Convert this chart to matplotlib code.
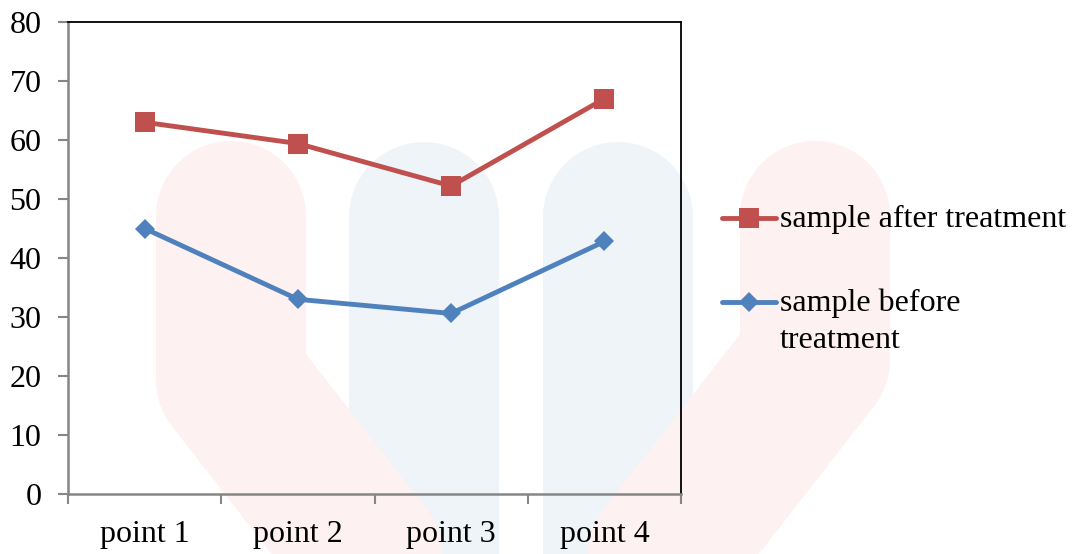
import matplotlib
matplotlib.use("Agg")
import matplotlib.pyplot as plt
from matplotlib.lines import Line2D

# ---- data ----
categories = ["point 1", "point 2", "point 3", "point 4"]
after_treatment = [63.0, 59.4, 52.2, 67.0]
before_treatment = [45.0, 33.0, 30.6, 42.8]
y_ticks = [0, 10, 20, 30, 40, 50, 60, 70, 80]

RED = "#c0504d"
BLUE = "#4f81bd"
plt.rcParams["font.family"] = ["Liberation Serif", "DejaVu Serif"]
FS = 23

W, H = 1073, 554
fig = plt.figure(figsize=(W / 100, H / 100), dpi=100)
fig.patch.set_facecolor("white")

# ---- faint logo in the background (pixel space) ----
bg = fig.add_axes([0, 0, 1, 1], zorder=0)
bg.set_xlim(0, W)
bg.set_ylim(H, 0)
bg.axis("off")
band_pt = 150 * 72 / 100
for cx in (424, 618):
    bg.add_line(Line2D([cx, cx], [217, 700], color="#eff4f9", lw=band_pt,
                       solid_capstyle="round", solid_joinstyle="round"))
bg.add_line(Line2D([231, 231, 231 + 0.78 * 400], [216, 380, 780], color="#fdf1f1",
                   lw=band_pt, solid_capstyle="round", solid_joinstyle="round"))
bg.add_line(Line2D([815, 815, 815 - 0.78 * 420], [216, 360, 780], color="#fdf1f1",
                   lw=band_pt, solid_capstyle="round", solid_joinstyle="round"))

# ---- main chart ----
ax = fig.add_axes([68 / W, 1 - 494 / H, (681 - 68) / W, (494 - 22) / H], zorder=1)
ax.set_facecolor("none")
x = list(range(len(categories)))
ax.plot(x, after_treatment, color=RED, lw=3.5, marker="s", markersize=14,
        markeredgewidth=0, label="sample after treatment", zorder=3)
ax.plot(x, before_treatment, color=BLUE, lw=3.5, marker="D", markersize=10,
        markeredgewidth=0, label="sample before\ntreatment", zorder=3)

ax.set_xlim(-0.5, len(categories) - 0.5)
ax.set_ylim(0, 80)
ax.set_yticks(y_ticks)
ax.set_yticklabels([str(v) for v in y_ticks])
ax.set_xticks(x)
ax.set_xticklabels(categories)
ax.set_xticks([i - 0.5 for i in range(len(categories) + 1)], minor=True)

ax.tick_params(axis="x", which="major", length=0, pad=19, labelsize=FS)
ax.tick_params(axis="x", which="minor", length=7, width=1.5, color="#868686",
               direction="out")
ax.tick_params(axis="y", which="major", length=7, width=1.5, color="#868686",
               direction="out", pad=12, labelsize=FS)

for side in ("left", "bottom"):
    ax.spines[side].set_color("#868686")
    ax.spines[side].set_linewidth(1.8)
for side in ("top", "right"):
    ax.spines[side].set_color("black")
    ax.spines[side].set_linewidth(1.3)

# ---- legend, to the right of the plot ----
def legend_entry(y_px, color, marker, ms, text):
    yf = 1 - y_px / H
    fig.add_artist(Line2D([722 / W, 776 / W], [yf, yf], color=color, lw=3.5,
                          solid_capstyle="round", transform=fig.transFigure))
    fig.add_artist(Line2D([749 / W], [yf], color=color, marker=marker,
                          markersize=ms, markeredgewidth=0,
                          transform=fig.transFigure))
    fig.text(780 / W, 1 - (y_px - 13) / H, text, fontsize=FS, va="top",
             ha="left", linespacing=1.36)

legend_entry(218, RED, "s", 14, "sample after treatment")
legend_entry(302, BLUE, "D", 10, "sample before\ntreatment")

fig.savefig("out.png", dpi=100, facecolor="white")
